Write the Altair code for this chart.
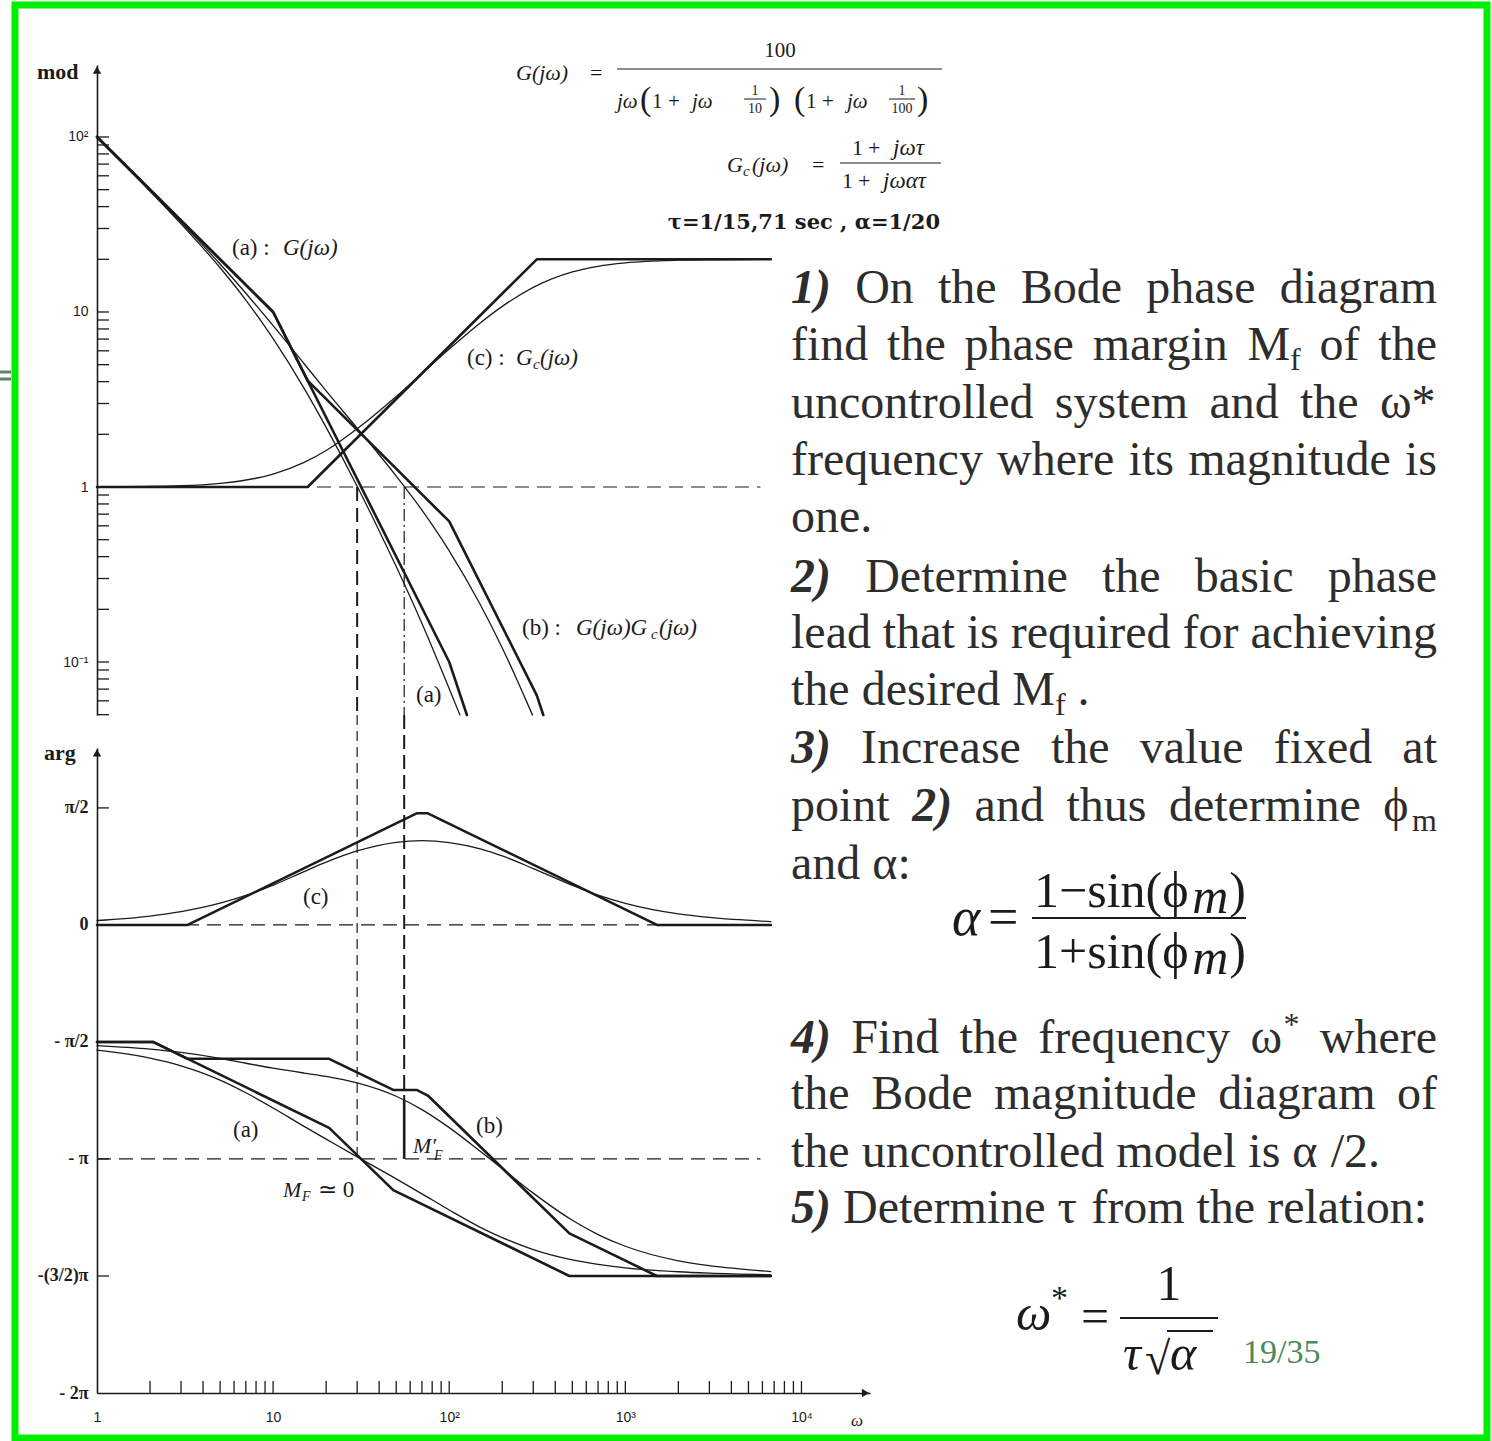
import altair as alt
import pandas as pd

# ---------------------------------------------------------------------------
# Frequency-response readings: omega in rad/s, magnitude as a ratio,
# phase in multiples of pi.
# ---------------------------------------------------------------------------
# (a) G(jw): exact magnitude and straight-line asymptote
OMEGA_A = [1, 2, 3, 5, 7, 10, 15, 20, 30, 40, 50, 70, 100, 115]
MAG_A = [99.5, 49.0, 31.9, 17.9, 11.7, 7.04, 3.66, 2.19, 1.01, 0.563, 0.351, 0.166, 0.0704, 0.0498]
OMEGA_A_ASYM = [1, 10, 100, 126]
MAG_A_ASYM = [100, 10, 0.1, 0.0498]

# (c) Gc(jw): lead network magnitude
OMEGA_C = [1, 3, 5, 8, 10, 15, 20, 30, 50, 70, 100, 150, 200, 300, 500, 700, 1000, 2000, 3000, 6700]
MAG_C = [1.002, 1.018, 1.049, 1.122, 1.186, 1.382, 1.617, 2.152, 3.29, 4.457, 6.14, 8.66,
         10.77, 13.83, 16.94, 18.25, 19.09, 19.76, 19.89, 19.98]
OMEGA_C_ASYM = [1, 15.71, 314.2, 6700]
MAG_C_ASYM = [1, 1, 20, 20]

# (b) G(jw)Gc(jw): compensated loop magnitude
OMEGA_B = [1, 2, 3, 5, 7, 10, 15, 20, 30, 40, 50, 70, 100, 150, 200, 250, 297]
MAG_B = [99.7, 49.4, 32.5, 18.8, 12.8, 8.35, 5.06, 3.54, 2.17, 1.528, 1.155, 0.738, 0.432,
         0.213, 0.1203, 0.074, 0.0498]
OMEGA_B_ASYM = [1, 10, 15.71, 100, 314.2, 342]
MAG_B_ASYM = [100, 10, 4.05, 0.636, 0.0645, 0.0498]

# phase curves (exact), shared frequency grid
OMEGA_PH = [1, 2, 3, 5, 7, 10, 15, 20, 30, 50, 70, 100, 150, 200, 300, 500, 700, 1000, 2000, 3000, 6700]
PH_A = [-0.535, -0.569, -0.602, -0.663, -0.717, -0.782, -0.861, -0.915, -0.991, -1.085, -1.149,
        -1.218, -1.292, -1.336, -1.387, -1.431, -1.450, -1.465, -1.482, -1.488, -1.495]
PH_C = [0.019, 0.038, 0.057, 0.093, 0.126, 0.170, 0.228, 0.268, 0.316, 0.353, 0.360, 0.352,
        0.325, 0.295, 0.241, 0.169, 0.127, 0.092, 0.047, 0.032, 0.014]
PH_B = [-0.516, -0.531, -0.545, -0.570, -0.591, -0.612, -0.633, -0.647, -0.675, -0.732, -0.789,
        -0.866, -0.967, -1.041, -1.146, -1.262, -1.323, -1.373, -1.435, -1.456, -1.481]

# phase asymptotes
OMEGA_A_PH_ASYM = [1, 2.08, 20.8, 48.1, 481, 6700]
PH_A_ASYM = [-0.5, -0.5, -0.867, -1.133, -1.5, -1.5]
OMEGA_C_PH_ASYM = [1, 3.27, 65.3, 75.6, 1511, 6700]
PH_C_ASYM = [0, 0, 0.477, 0.477, 0, 0]
OMEGA_B_PH_ASYM = [1, 2.08, 3.27, 20.8, 48.1, 65.3, 75.6, 481, 1511, 6700]
PH_B_ASYM = [-0.5, -0.5, -0.572, -0.572, -0.705, -0.705, -0.729, -1.318, -1.5, -1.5]

# crossover frequencies and the compensated phase there
OMEGA_CROSS_A = 30.0
OMEGA_CROSS_B = 55.5
PH_B_AT_CROSS = -0.748

# axis ticks
MAG_TICKS = [round(n * 10.0 ** k, 4) for k in (-2, -1, 0, 1) for n in range(1, 10)
             if 0.05 <= n * 10.0 ** k <= 100] + [100]
OMEGA_TICKS = [n * 10 ** k for k in range(4) for n in range(2, 11)]
PHASE_TICKS = [0.5, -0.5, -1.0, -1.5]

# ---------------------------------------------------------------------------
# Page geometry and styling
# ---------------------------------------------------------------------------
INK = "#1b1b1b"
TEXT_INK = "#2d2d2d"
GREEN = "#00ee00"
SERIF = "Liberation Serif"
PAD_L, PAD_T, PAD_R, PAD_B = 15, 5, 5, 3
VIEW_W, VIEW_H = 1492 - PAD_L - PAD_R, 1441 - PAD_T - PAD_B

x_scale = alt.Scale(type="log", domain=[1, 24500], range=[82, 855], nice=False)
mag_scale = alt.Scale(type="log", domain=[0.0498, 257.8], range=[710, 60], nice=False)
ph_scale = alt.Scale(type="linear", domain=[-2, 0.756], range=[1388, 743], nice=False, zero=False)

x_axis = alt.Axis(
    orient="bottom", offset=-45, values=[1, 10, 100, 1000, 10000],
    labelExpr="datum.value < 2 ? '1' : datum.value < 20 ? '10' : datum.value < 200 ? '10²' : datum.value < 2000 ? '10³' : '10⁴'",
    ticks=False, tickSize=0, grid=False, domainColor=INK, domainWidth=1.6,
    labelFont="Liberation Sans", labelFontSize=14, labelColor=INK, labelPadding=17,
    labelFlush=False, labelOverlap=False, title=None,
)
mag_axis = alt.Axis(
    orient="left", offset=-82, values=[0.1, 1, 10, 100],
    labelExpr="datum.value > 50 ? '10²' : datum.value > 5 ? '10' : datum.value > 0.5 ? '1' : '10⁻¹'",
    ticks=False, tickSize=0, grid=False, domainColor=INK, domainWidth=1.6,
    labelFont="Liberation Sans", labelFontSize=14, labelColor=INK, labelPadding=9,
    labelOverlap=False, labelBaseline="middle", title=None,
)
ph_axis = alt.Axis(
    orient="left", offset=-82, values=[0.5, 0, -0.5, -1, -1.5, -2],
    labelExpr="datum.value > 0.4 ? 'π/2' : datum.value > -0.1 ? '0' : datum.value > -0.6 ? '- π/2' : datum.value > -1.1 ? '- π' : datum.value > -1.6 ? '-(3/2)π' : '- 2π'",
    ticks=False, tickSize=0, grid=False, domainColor=INK, domainWidth=1.6,
    labelFont=SERIF, labelFontSize=18, labelFontWeight="bold", labelColor=INK,
    labelPadding=9, labelOverlap=False, labelBaseline="middle", title=None,
)


def X(field="w"):
    return alt.X(f"{field}:Q", scale=x_scale, axis=x_axis)


def YM(field="v"):
    return alt.Y(f"{field}:Q", scale=mag_scale, axis=mag_axis)


def YP(field="v"):
    return alt.Y(f"{field}:Q", scale=ph_scale, axis=ph_axis)


def curve(ws, vs, yenc, width, interp="linear"):
    df = pd.DataFrame({"w": ws, "v": vs})
    return alt.Chart(df).mark_line(
        color=INK, strokeWidth=width, interpolate=interp, strokeJoin="round", strokeCap="round"
    ).encode(x=X(), y=yenc())


def hline(w1, w2, v, yenc, width, dash):
    df = pd.DataFrame({"w1": [w1], "w2": [w2], "v": [v]})
    return alt.Chart(df).mark_rule(color=INK, strokeWidth=width, strokeDash=dash).encode(
        x=X("w1"), x2="w2:Q", y=yenc()
    )


def vline(w, v1, v2, yenc, width, dash=None):
    df = pd.DataFrame({"w": [w], "v": [v1], "v2": [v2]})
    kw = dict(color=INK, strokeWidth=width)
    if dash:
        kw["strokeDash"] = dash
    return alt.Chart(df).mark_rule(**kw).encode(x=X(), y=yenc(), y2="v2:Q")


def arrow(w, v, yenc, shape):
    df = pd.DataFrame({"w": [w], "v": [v]})
    return alt.Chart(df).mark_point(shape=shape, filled=True, size=70, color=INK, opacity=1).encode(
        x=X(), y=yenc()
    )


THICK, THIN = 2.6, 1.3

# ---------------------------- magnitude panel ------------------------------
mag_layer = alt.layer(
    hline(1, 5850, 1, YM, 1.2, [14, 8]),
    vline(OMEGA_CROSS_A, 1, 0.0498, YM, 2.0, [14, 7]),
    vline(OMEGA_CROSS_B, 1, 0.0498, YM, 1.2, [12, 4, 2, 4]),
    curve(OMEGA_A_ASYM, MAG_A_ASYM, YM, THICK),
    curve(OMEGA_A, MAG_A, YM, THIN, "monotone"),
    curve(OMEGA_C_ASYM, MAG_C_ASYM, YM, THICK),
    curve(OMEGA_C, MAG_C, YM, THIN, "monotone"),
    curve(OMEGA_B_ASYM, MAG_B_ASYM, YM, THICK),
    curve(OMEGA_B, MAG_B, YM, THIN, "monotone"),
    alt.Chart(pd.DataFrame({"v": MAG_TICKS})).mark_rule(color=INK, strokeWidth=1.3).encode(
        y=YM(), x=alt.value(82), x2=alt.value(94)
    ),
    arrow(1, 241, YM, "triangle-up"),
)

# ------------------------------ phase panel --------------------------------
ph_layer = alt.layer(
    hline(1, 6700, 0, YP, 1.2, [14, 8]),
    hline(1, 5850, -1, YP, 1.2, [14, 8]),
    vline(OMEGA_CROSS_A, 0.897, -1.0, YP, 1.2, [10, 6]),
    vline(OMEGA_CROSS_B, 0.897, PH_B_AT_CROSS, YP, 2.0, [14, 6]),
    vline(OMEGA_CROSS_B, PH_B_AT_CROSS, -1.0, YP, THICK),
    curve(OMEGA_C_PH_ASYM, PH_C_ASYM, YP, THICK),
    curve(OMEGA_PH, PH_C, YP, THIN, "monotone"),
    curve(OMEGA_A_PH_ASYM, PH_A_ASYM, YP, THICK),
    curve(OMEGA_PH, PH_A, YP, THIN, "monotone"),
    curve(OMEGA_B_PH_ASYM, PH_B_ASYM, YP, THICK),
    curve(OMEGA_PH, PH_B, YP, THIN, "monotone"),
    alt.Chart(pd.DataFrame({"v": PHASE_TICKS})).mark_rule(color=INK, strokeWidth=1.3).encode(
        y=YP(), x=alt.value(82), x2=alt.value(94)
    ),
    alt.Chart(pd.DataFrame({"w": OMEGA_TICKS})).mark_rule(color=INK, strokeWidth=1.3).encode(
        x=X(), y=alt.value(1376), y2=alt.value(1388)
    ),
    arrow(1, 0.735, YP, "triangle-up"),
    arrow(23100, -2, YP, "triangle-right"),
)

# ---------------------------------------------------------------------------
# Text and formula pieces (page pixel positions)
# ---------------------------------------------------------------------------
TXT = []
BARS = []


def put(x, y, text, size, style="normal", weight="normal", align="left",
        baseline="middle", font=SERIF, color=INK):
    TXT.append(dict(x=x - PAD_L, y=y - PAD_T, text=text, size=size, font=font,
                    style=style, weight=weight, align=align, baseline=baseline, color=color))


def bar(x1, x2, y, w=1.2, color=INK):
    BARS.append(dict(x1=x1 - PAD_L, x2=x2 - PAD_L, y=y - PAD_T, sw=w, color=color))


# axis captions
put(37, 72, "mod", 22, weight="bold")
put(44, 753, "arg", 22, weight="bold")
put(851, 1421, "ω", 17, style="italic")

# curve labels, magnitude panel
put(232, 248, "(a) :", 23)
put(283, 248, "G(jω)", 23, style="italic")
put(467, 358, "(c) :", 23)
put(516, 358, "G", 23, style="italic")
put(533, 364, "c", 15, style="italic")
put(540, 358, "(jω)", 23, style="italic")
put(522, 628, "(b) :", 23)
put(576, 628, "G(jω)G", 23, style="italic")
put(651, 634, "c", 15, style="italic")
put(659, 628, "(jω)", 23, style="italic")
put(416, 695, "(a)", 23)

# curve labels, phase panel
put(303, 897, "(c)", 23)
put(233, 1130, "(a)", 23)
put(476, 1126, "(b)", 23)
put(413, 1146, "M′", 22, style="italic")
put(434, 1156, "F", 14, style="italic")
put(283, 1190, "M", 22, style="italic")
put(302, 1197, "F", 14, style="italic")
put(318, 1190, "≃ 0", 23)

# G(jw) transfer function
put(780, 51, "100", 21, align="center")
bar(617, 942, 69)
put(516, 73, "G(jω)", 22, style="italic")
put(590, 73, "=", 22)
put(617, 102, "jω", 21, style="italic")
put(640, 100, "(", 34)
put(652, 102, "1", 21)
put(668, 102, "+", 21)
put(692, 102, "jω", 21, style="italic")
put(755, 91, "1", 14, align="center")
bar(744, 766, 99, 1.0)
put(755, 109, "10", 14, align="center")
put(769, 100, ")", 34)
put(794, 100, "(", 34)
put(806, 102, "1", 21)
put(822, 102, "+", 21)
put(847, 102, "jω", 21, style="italic")
put(902, 91, "1", 14, align="center")
bar(889, 915, 99, 1.0)
put(902, 109, "100", 14, align="center")
put(917, 100, ")", 34)

# Gc(jw) lead network
put(727, 165, "G", 22, style="italic")
put(743, 171, "c", 15, style="italic")
put(752, 165, "(jω)", 22, style="italic")
put(812, 165, "=", 22)
put(852, 148, "1", 22)
put(868, 148, "+", 22)
put(893, 148, "jωτ", 23, style="italic")
bar(840, 941, 163)
put(842, 181, "1", 22)
put(858, 181, "+", 22)
put(883, 181, "jωατ", 23, style="italic")
put(940, 223, "τ=1/15,71 sec , α=1/20", 21, weight="bold", align="right", font="DejaVu Serif")

# --------------------------- procedure text --------------------------------
CW = {" ": 0.25, "a": 0.444, "b": 0.5, "c": 0.444, "d": 0.5, "e": 0.444, "f": 0.333, "g": 0.5,
      "h": 0.5, "i": 0.278, "j": 0.278, "k": 0.5, "l": 0.278, "m": 0.778, "n": 0.5, "o": 0.5,
      "p": 0.5, "q": 0.5, "r": 0.333, "s": 0.389, "t": 0.278, "u": 0.5, "v": 0.5, "w": 0.722,
      "x": 0.5, "y": 0.5, "z": 0.444, "B": 0.667, "D": 0.722, "F": 0.556, "I": 0.333,
      "M": 0.889, "O": 0.722, ".": 0.25, ":": 0.278, "/": 0.278, ")": 0.333, "(": 0.333,
      "*": 0.5, "ω": 0.69, "ϕ": 0.6, "α": 0.55, "τ": 0.45, "−": 0.564, "+": 0.564, "=": 0.564}
BODY, SMALL = 48, 32
LEFT, RIGHT = 791, 1437

BODY_LINES = [
    (303, True, [[("1)", "bi")], "On", "the", "Bode", "phase", "diagram"]),
    (360, True, ["find", "the", "phase", "margin", [("M", "r"), ("f", "sub")], "of", "the"]),
    (418, True, ["uncontrolled", "system", "and", "the", "ω*"]),
    (475, True, ["frequency", "where", "its", "magnitude", "is"]),
    (532, False, ["one."]),
    (592, True, [[("2)", "bi")], "Determine", "the", "basic", "phase"]),
    (648, True, ["lead", "that", "is", "required", "for", "achieving"]),
    (705, False, ["the", "desired", [("M", "r"), ("f", "sub")], "."]),
    (763, True, [[("3)", "bi")], "Increase", "the", "value", "fixed", "at"]),
    (821, True, ["point", [("2)", "bi")], "and", "thus", "determine", [("ϕ", "r"), ("m", "sub")]]),
    (879, False, ["and", "α:"]),
    (1053, True, [[("4)", "bi")], "Find", "the", "frequency", [("ω", "r"), ("*", "sup")], "where"]),
    (1109, True, ["the", "Bode", "magnitude", "diagram", "of"]),
    (1167, False, ["the", "uncontrolled", "model", "is", "α", "/2."]),
    (1223, False, [[("5)", "bi")], "Determine", "τ", "from", "the", "relation:"]),
]


def run_width(text, kind):
    size = SMALL if kind in ("sub", "sup") else BODY
    return sum(CW.get(ch, 0.5) for ch in text) * size


def place_run(x, y, text, kind):
    if kind == "bi":
        put(x, y, text, BODY, style="italic", weight="bold", baseline="alphabetic", color=TEXT_INK)
    elif kind == "sub":
        put(x, y + 10, text, SMALL, baseline="alphabetic", color=TEXT_INK)
    elif kind == "sup":
        put(x, y - 18, text, SMALL, baseline="alphabetic", color=TEXT_INK)
    else:
        put(x, y, text, BODY, baseline="alphabetic", color=TEXT_INK)


for base_y, justify, words in BODY_LINES:
    runs = [[(w, "r")] if isinstance(w, str) else w for w in words]
    widths = [sum(run_width(t, k) for t, k in r) for r in runs]
    if justify and len(runs) > 1:
        gap = (RIGHT - LEFT - sum(widths)) / (len(runs) - 1)
    else:
        gap = CW[" "] * BODY
    x = LEFT
    for r, wd in zip(runs, widths):
        xx = x
        for t, k in r:
            place_run(xx, base_y, t, k)
            xx += run_width(t, k)
        x += wd + gap

# alpha = (1 - sin phi_m) / (1 + sin phi_m)
FS = 50
put(952, 935, "α", 54, style="italic", baseline="alphabetic", font=SERIF, color=INK)
put(988, 935, "=", 54, baseline="alphabetic")
for base_y, lead in ((907, "1−sin(ϕ"), (968, "1+sin(ϕ")):
    x0 = 1034
    put(x0, base_y, lead, FS, baseline="alphabetic")
    x0 += sum(CW.get(c, 0.5) for c in lead) * FS
    put(x0, base_y + 6, "m", FS, style="italic", baseline="alphabetic")
    x0 += CW["m"] * FS * 0.95
    put(x0, base_y, ")", FS, baseline="alphabetic")
bar(1032, 1246, 918, 2.0)

# omega* = 1 / (tau sqrt(alpha))
put(1016, 1330, "ω", 50, style="italic", baseline="alphabetic")
put(1051, 1309, "*", 34, baseline="alphabetic")
put(1081, 1333, "=", 50, baseline="alphabetic")
put(1169, 1300, "1", 50, align="center", baseline="alphabetic")
bar(1120, 1218, 1318, 2.0)
put(1123, 1370, "τ", 50, style="italic", baseline="alphabetic")
put(1145, 1374, "√", 46, baseline="alphabetic")
bar(1167, 1213, 1331, 1.8)
put(1170, 1370, "α", 50, style="italic", baseline="alphabetic")
put(1243, 1363, "19/35", 34, baseline="alphabetic", color="#4d8a5b")

# small slide marker at the left edge
bar(0, 11, 372, 3, "#5a8766")
bar(0, 11, 379, 3, "#5a8766")

bars_layer = alt.Chart(pd.DataFrame(BARS)).mark_rule().encode(
    x=alt.X("x1:Q", scale=None, axis=None),
    x2="x2:Q",
    y=alt.Y("y:Q", scale=None, axis=None),
    strokeWidth=alt.StrokeWidth("sw:Q", scale=None, legend=None),
    color=alt.Color("color:N", scale=None, legend=None),
)

groups = {}
for it in TXT:
    key = (it["font"], it["style"], it["weight"], it["align"], it["baseline"])
    groups.setdefault(key, []).append(it)

text_layers = []
for (font, style, weight, align, base), items in groups.items():
    df = pd.DataFrame(items)[["x", "y", "text", "size", "color"]]
    text_layers.append(
        alt.Chart(df).mark_text(
            font=font, fontStyle=style, fontWeight=weight, align=align, baseline=base
        ).encode(
            x=alt.X("x:Q", scale=None, axis=None),
            y=alt.Y("y:Q", scale=None, axis=None),
            text="text:N",
            size=alt.Size("size:Q", scale=None, legend=None),
            color=alt.Color("color:N", scale=None, legend=None),
        )
    )

chart = (
    alt.layer(mag_layer, ph_layer, bars_layer, *text_layers)
    .resolve_scale(y="independent")
    .properties(
        width=VIEW_W,
        height=VIEW_H,
        padding={"left": PAD_L, "top": PAD_T, "right": PAD_R, "bottom": PAD_B},
        autosize=alt.AutoSizeParams(type="none"),
        background="white",
    )
    .configure_view(stroke=GREEN, strokeWidth=7)
)

chart.save("out.html", embed_options={"renderer": "svg", "actions": False})
